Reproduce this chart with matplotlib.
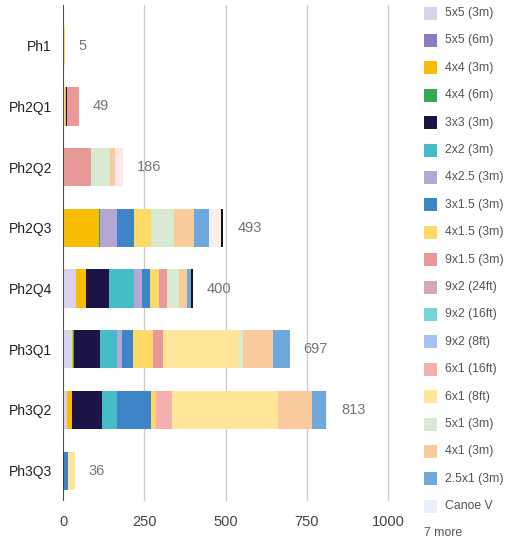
import numpy as np
import matplotlib
matplotlib.use('Agg')
import matplotlib.pyplot as plt
import matplotlib.patches as patches

plt.rcParams['font.family'] = ['Liberation Sans', 'DejaVu Sans']

# Categories (top to bottom)
categories = ['Ph1', 'Ph2Q1', 'Ph2Q2', 'Ph2Q3', 'Ph2Q4', 'Ph3Q1', 'Ph3Q2', 'Ph3Q3']

# Stacked series values, one list per series, in category order
s_5x5_3m = [0, 6, 0, 0, 40, 27, 13, 0]
s_5x5_6m = [0, 0, 0, 0, 0, 0, 0, 0]
s_4x4_3m = [0, 3, 0, 110, 30, 4, 16, 0]
s_4x4_6m = [0, 0, 0, 5, 0, 3, 0, 0]
s_3x3_3m = [0, 2, 0, 0, 73, 81, 90, 0]
s_2x2_3m = [0, 0, 0, 0, 75, 51, 46, 0]
s_4x25_3m = [0, 0, 0, 52, 24, 14, 0, 0]
s_3x15_3m = [0, 0, 0, 50, 27, 36, 106, 15]
s_4x15_3m = [5, 0, 0, 54, 27, 62, 15, 0]
s_9x15_3m = [0, 38, 87, 0, 24, 30, 0, 0]
s_9x2_24ft = [0, 0, 0, 0, 0, 0, 0, 0]
s_9x2_16ft = [0, 0, 0, 0, 0, 0, 0, 0]
s_9x2_8ft = [0, 0, 0, 0, 0, 0, 0, 0]
s_6x1_16ft = [0, 0, 0, 0, 0, 0, 48, 0]
s_6x1_8ft = [0, 0, 0, 0, 0, 234, 326, 21]
s_5x1_3m = [0, 0, 57, 72, 37, 12, 0, 0]
s_4x1_3m = [0, 0, 16, 61, 24, 93, 107, 0]
s_25x1_3m = [0, 0, 0, 46, 14, 50, 41, 0]
s_canoe_v = [0, 0, 0, 8, 0, 0, 5, 0]
# series hidden behind "7 more"
s_more_a = [0, 0, 26, 0, 0, 0, 0, 0]
s_more_b = [0, 0, 0, 27, 0, 0, 0, 0]
s_more_c = [0, 0, 0, 8, 5, 0, 0, 0]

series = [
    ('5x5 (3m)', s_5x5_3m, '#d9d2e9'),
    ('5x5 (6m)', s_5x5_6m, '#8e7cc3'),
    ('4x4 (3m)', s_4x4_3m, '#fbbc04'),
    ('4x4 (6m)', s_4x4_6m, '#34a853'),
    ('3x3 (3m)', s_3x3_3m, '#1c1446'),
    ('2x2 (3m)', s_2x2_3m, '#46bdc6'),
    ('4x2.5 (3m)', s_4x25_3m, '#b4a7d6'),
    ('3x1.5 (3m)', s_3x15_3m, '#3d85c6'),
    ('4x1.5 (3m)', s_4x15_3m, '#ffd966'),
    ('9x1.5 (3m)', s_9x15_3m, '#ea9999'),
    ('9x2 (24ft)', s_9x2_24ft, '#d5a6bd'),
    ('9x2 (16ft)', s_9x2_16ft, '#76d5d5'),
    ('9x2 (8ft)', s_9x2_8ft, '#a4c2f4'),
    ('6x1 (16ft)', s_6x1_16ft, '#f4b0ae'),
    ('6x1 (8ft)', s_6x1_8ft, '#ffe599'),
    ('5x1 (3m)', s_5x1_3m, '#d9ead3'),
    ('4x1 (3m)', s_4x1_3m, '#f9cb9c'),
    ('2.5x1 (3m)', s_25x1_3m, '#6fa8dc'),
    ('Canoe V', s_canoe_v, '#e8eefb'),
    ('more A', s_more_a, '#fde6e6'),
    ('more B', s_more_b, '#fbefe3'),
    ('more C', s_more_c, '#111111'),
]
n_legend = 19
hidden_count = 7

W, H = 508, 539
fig = plt.figure(figsize=(W / 100, H / 100), dpi=100)
ax = fig.add_axes([63 / W, (H - 501) / H, 327 / W, 496 / H])

y = np.arange(len(categories))
left = np.zeros(len(categories))
for name, vals, color in series:
    vals = np.array(vals, dtype=float)
    ax.barh(y, vals, left=left, height=0.63, color=color, linewidth=0, zorder=3)
    left += vals

for yi, total in zip(y, left):
    ax.annotate(f'{int(total)}', xy=(total, yi), xytext=(10, 0), textcoords='offset points',
                ha='left', va='center', fontsize=10.5, color='#757575')

ax.set_xlim(0, 1006)
ax.set_ylim(7.5, -0.67)
ax.set_xticks([0, 250, 500, 750, 1000])
ax.set_yticks(y)
ax.set_yticklabels(categories)
ax.tick_params(axis='both', length=0, labelsize=10, colors='#222222')
ax.tick_params(axis='y', pad=8)
ax.tick_params(axis='x', pad=10, colors='#444444', labelsize=10.5)
ax.xaxis.grid(True, color='#cccccc', linewidth=1, zorder=0)
for s in ax.spines.values():
    s.set_visible(False)
ax.axvline(0, color='#333333', linewidth=1.2, zorder=4)

# legend drawn by hand, one row per visible series
row0, step = 13, 27.4
for i, (name, vals, color) in enumerate(series[:n_legend]):
    cy = row0 + i * step
    fig.add_artist(patches.Rectangle((424 / W, 1 - (cy + 6.5) / H), 13 / W, 13 / H,
                                     transform=fig.transFigure, color=color, linewidth=0))
    fig.text(445 / W, 1 - cy / H, name, ha='left', va='center', fontsize=8.8, color='#555555')
fig.text(424 / W, 1 - 533 / H, f'{hidden_count} more', ha='left', va='center',
         fontsize=8.8, color='#555555')

fig.savefig('out.png', dpi=100)
